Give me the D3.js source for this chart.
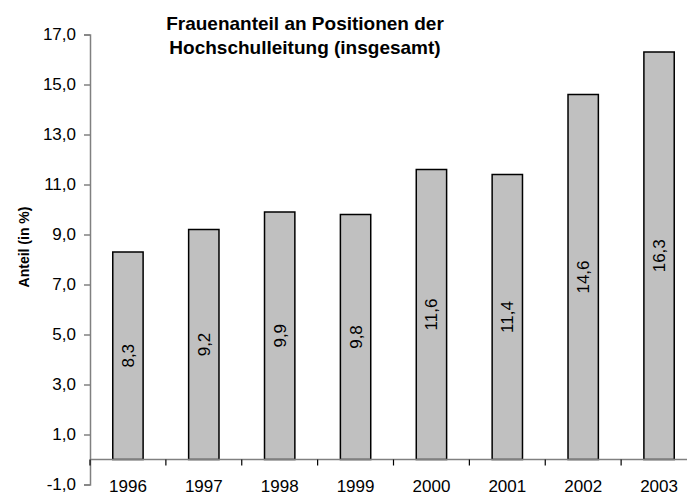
<!DOCTYPE html>
<html>
<head>
<meta charset="utf-8">
<script src="https://cdn.jsdelivr.net/npm/d3@7"></script>
<style>
  body { margin: 0; background: #fff; }
  svg { display: block; font-family: "Liberation Sans", Arial, sans-serif; }
</style>
</head>
<body>
<svg id="chart" width="687" height="495"></svg>
<script>
// data
var years = ["1996", "1997", "1998", "1999", "2000", "2001", "2002", "2003"];
var anteil = [8.3, 9.2, 9.9, 9.8, 11.6, 11.4, 14.6, 16.3];
var yTicks = [-1, 1, 3, 5, 7, 9, 11, 13, 15, 17];
var titleLines = ["Frauenanteil an Positionen der", "Hochschulleitung (insgesamt)"];

var svg = d3.select("#chart");
var plotLeft = 90, plotRight = 697, plotTop = 34.5, plotBottom = 484.5;

var x = d3.scaleBand().domain(years).range([plotLeft, plotRight]).paddingInner(0.6).paddingOuter(0.3);
var y = d3.scaleLinear().domain([-1, 17]).range([plotBottom, plotTop]);

// german style: comma decimal, plain hyphen for minus
var fmt = function (d) { return d.toFixed(1).replace(".", ","); };

// y axis
var yAxis = svg.append("g")
  .attr("transform", "translate(" + plotLeft + ",0)")
  .call(d3.axisLeft(y).tickValues(yTicks).tickSize(6).tickPadding(8).tickFormat(fmt));
yAxis.select(".domain").attr("stroke", "#808080").attr("stroke-width", 1.5);
yAxis.selectAll(".tick line").attr("stroke", "#808080").attr("stroke-width", 1.5);
yAxis.selectAll("text").attr("font-size", 17).attr("fill", "#000").attr("font-family", "Liberation Sans, Arial, sans-serif");

// bars
svg.selectAll("rect.bar")
  .data(anteil)
  .enter()
  .append("rect")
  .attr("class", "bar")
  .attr("x", function (d, i) { return x(years[i]); })
  .attr("y", function (d) { return y(d); })
  .attr("width", x.bandwidth())
  .attr("height", function (d) { return y(0) - y(d); })
  .attr("fill", "#c0c0c0")
  .attr("stroke", "#000")
  .attr("stroke-width", 1.5);

// x axis at zero, ticks between the categories
var step = x.step();
var bounds = d3.range(years.length + 1).map(function (i) { return plotLeft + i * step; });
svg.append("line")
  .attr("x1", plotLeft).attr("x2", 687)
  .attr("y1", y(0)).attr("y2", y(0))
  .attr("stroke", "#808080").attr("stroke-width", 1.5);
svg.selectAll("line.xtick")
  .data(bounds)
  .enter()
  .append("line")
  .attr("class", "xtick")
  .attr("x1", function (d) { return d; }).attr("x2", function (d) { return d; })
  .attr("y1", y(0)).attr("y2", y(0) + 6)
  .attr("stroke", "#000").attr("stroke-width", 1.2);

svg.selectAll("text.year")
  .data(years)
  .enter()
  .append("text")
  .attr("class", "year")
  .attr("x", function (d) { return x(d) + x.bandwidth() / 2; })
  .attr("y", 492)
  .attr("text-anchor", "middle")
  .attr("font-size", 17)
  .text(function (d) { return d; });

// value labels inside the bars
svg.selectAll("text.val")
  .data(anteil)
  .enter()
  .append("text")
  .attr("class", "val")
  .attr("transform", function (d, i) {
    var cx = x(years[i]) + x.bandwidth() / 2;
    var cy = (y(d) + y(0)) / 2;
    return "translate(" + (cx + 6) + "," + cy + ") rotate(-90)";
  })
  .attr("text-anchor", "middle")
  .attr("font-size", 17)
  .text(fmt);

// title
svg.append("text")
  .attr("x", 305)
  .attr("y", 30)
  .attr("text-anchor", "middle")
  .attr("font-size", 19)
  .attr("font-weight", "bold")
  .selectAll("tspan")
  .data(titleLines)
  .enter()
  .append("tspan")
  .attr("x", 305)
  .attr("dy", function (d, i) { return i === 0 ? 0 : 24; })
  .text(function (d) { return d; });

// axis title
svg.append("text")
  .attr("transform", "translate(29,247) rotate(-90)")
  .attr("text-anchor", "middle")
  .attr("font-size", 14)
  .attr("font-weight", "bold")
  .text("Anteil (in %)");
</script>
</body>
</html>
